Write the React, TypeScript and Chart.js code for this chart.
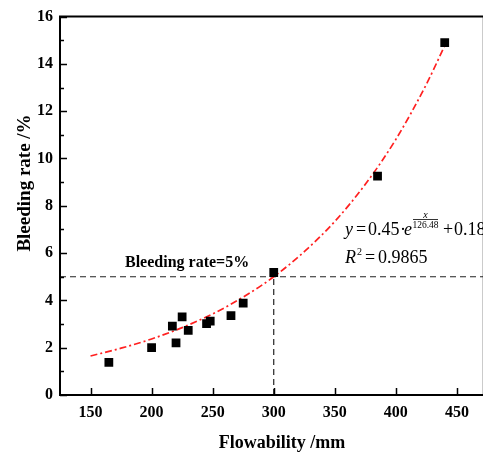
import React, { useEffect, useRef } from 'react';
import { Chart, registerables } from 'chart.js';

Chart.register(...registerables);

// Measured points
const flowability = [165, 200, 217, 220, 225, 230, 245, 248, 265, 275, 300, 385, 440];
const bleedingRate = [1.38, 2.0, 2.91, 2.2, 3.3, 2.73, 3.02, 3.12, 3.36, 3.88, 5.18, 9.25, 14.9];

// Fitted curve
const fitX = [150, 175, 200, 225, 250, 275, 300, 325, 350, 375, 400, 425, 440];
const fitY = [1.65, 1.98, 2.37, 2.85, 3.43, 4.14, 5.0, 6.06, 7.34, 8.91, 10.81, 13.14, 14.77];

// Axes
const xTicks = [150, 200, 250, 300, 350, 400, 450];
const yTicks = [0, 2, 4, 6, 8, 10, 12, 14, 16];
const yMinorTicks = [1, 3, 5, 7, 9, 11, 13, 15];
const xMin = 125;
const xMax = 472;
const yMin = 0;
const yMax = 16;

// Threshold
const thresholdRate = 5;
const thresholdFlow = 300;

const xTitle = 'Flowability /mm';
const yTitle = 'Bleeding rate /%';
const thresholdLabel = 'Bleeding rate=5%';

const SERIF = '"Liberation Serif", "Times New Roman", serif';

const decorPlugin = {
  id: 'decor',
  afterDraw(chart: any) {
    const { ctx, chartArea } = chart;
    const xs = chart.scales.x;
    const ys = chart.scales.y;
    const { left, right, top, bottom } = chartArea;
    ctx.save();
    // frame
    ctx.strokeStyle = '#000';
    ctx.lineWidth = 2;
    ctx.setLineDash([]);
    ctx.beginPath();
    ctx.moveTo(right, top);
    ctx.lineTo(left, top);
    ctx.lineTo(left, bottom);
    ctx.lineTo(right, bottom);
    ctx.lineTo(right, top);
    ctx.stroke();
    // inner ticks
    ctx.lineWidth = 1.5;
    ctx.beginPath();
    xTicks.forEach((v) => {
      const px = Math.round(xs.getPixelForValue(v)) + 0.5;
      ctx.moveTo(px, bottom);
      ctx.lineTo(px, bottom - 7);
    });
    yTicks.forEach((v) => {
      const py = Math.round(ys.getPixelForValue(v)) + 0.5;
      ctx.moveTo(left, py);
      ctx.lineTo(left + 7, py);
    });
    yMinorTicks.forEach((v) => {
      const py = Math.round(ys.getPixelForValue(v)) + 0.5;
      ctx.moveTo(left, py);
      ctx.lineTo(left + 4, py);
    });
    ctx.stroke();

    ctx.fillStyle = '#000';
    // axis titles
    ctx.font = `bold 18px ${SERIF}`;
    ctx.textAlign = 'center';
    ctx.textBaseline = 'middle';
    ctx.fillText(xTitle, 282, 443);
    ctx.save();
    ctx.translate(25, 183);
    ctx.rotate(-Math.PI / 2);
    ctx.font = `bold 19px ${SERIF}`;
    ctx.fillText(yTitle, 0, 0);
    ctx.restore();

    // threshold label
    ctx.textAlign = 'left';
    ctx.textBaseline = 'alphabetic';
    ctx.font = `bold 16px ${SERIF}`;
    ctx.fillText(thresholdLabel, 125, 267);

    // equation
    const f = `18px ${SERIF}`;
    const fi = `italic 18px ${SERIF}`;
    const small = `9.5px ${SERIF}`;
    const smallI = `italic 10px ${SERIF}`;
    ctx.font = fi;
    ctx.fillText('y', 345, 235);
    ctx.font = f;
    ctx.fillText('=', 356, 235);
    ctx.fillText('0.45', 368, 235);
    ctx.fillText('\u00b7', 400, 235);
    ctx.font = fi;
    ctx.fillText('e', 404, 235);
    ctx.font = smallI;
    ctx.textAlign = 'center';
    ctx.fillText('x', 425.5, 217.5);
    ctx.font = small;
    ctx.fillText('126.48', 425.5, 228);
    ctx.lineWidth = 0.8;
    ctx.beginPath();
    ctx.moveTo(413, 219.5);
    ctx.lineTo(438, 219.5);
    ctx.stroke();
    ctx.textAlign = 'left';
    ctx.font = f;
    ctx.fillText('+', 443, 235);
    ctx.fillText('0.18', 454, 235);

    ctx.font = fi;
    ctx.fillText('R', 345, 263);
    ctx.font = `10px ${SERIF}`;
    ctx.fillText('2', 357, 255);
    ctx.font = f;
    ctx.fillText('=', 365, 263);
    ctx.fillText('0.9865', 378, 263);

    ctx.restore();
  },
};

export default function App() {
  const ref = useRef<HTMLCanvasElement | null>(null);
  useEffect(() => {
    if (!ref.current) return;
    const pts = flowability.map((x, i) => ({ x, y: bleedingRate[i] }));
    const fit = fitX.map((x, i) => ({ x, y: fitY[i] }));
    const hLine = [
      { x: xMin, y: thresholdRate },
      { x: xMax, y: thresholdRate },
    ];
    const vLine = [
      { x: thresholdFlow, y: yMin },
      { x: thresholdFlow, y: thresholdRate },
    ];
    const chart = new Chart(ref.current, {
      type: 'scatter',
      data: {
        datasets: [
          {
            label: 'Measured',
            data: pts,
            pointStyle: 'rect',
            pointRadius: 6.2,
            backgroundColor: '#000',
            borderWidth: 0,
          } as any,
          {
            label: 'Fit',
            data: fit,
            showLine: true,
            pointRadius: 0,
            borderColor: '#ff2020',
            borderWidth: 1.7,
            borderDash: [7, 3, 2, 3],
            tension: 0.4,
            cubicInterpolationMode: 'monotone',
          } as any,
          {
            label: 'h',
            data: hLine,
            showLine: true,
            pointRadius: 0,
            borderColor: '#222',
            borderWidth: 1.2,
            borderDash: [6, 4],
          } as any,
          {
            label: 'v',
            data: vLine,
            showLine: true,
            pointRadius: 0,
            borderColor: '#222',
            borderWidth: 1.2,
            borderDash: [6, 4],
          } as any,
        ],
      },
      options: {
        responsive: false,
        animation: false,
        layout: { padding: { left: 0, top: 16, right: 4, bottom: 0 } },
        plugins: { legend: { display: false }, tooltip: { enabled: false } },
        scales: {
          x: {
            type: 'linear',
            min: xMin,
            max: xMax,
            grid: { display: false, drawTicks: false },
            border: { display: false },
            afterBuildTicks: (s: any) => {
              s.ticks = xTicks.map((v) => ({ value: v }));
            },
            afterFit: (s: any) => {
              s.height = 59;
            },
            ticks: {
              padding: 8,
              color: '#000',
              font: { family: SERIF, size: 16, weight: 'bold' },
            },
          },
          y: {
            type: 'linear',
            min: yMin,
            max: yMax,
            grid: { display: false, drawTicks: false },
            border: { display: false },
            afterBuildTicks: (s: any) => {
              s.ticks = yTicks.map((v) => ({ value: v }));
            },
            afterFit: (s: any) => {
              s.width = 60;
            },
            ticks: {
              padding: 7,
              color: '#000',
              font: { family: SERIF, size: 16, weight: 'bold' },
            },
          },
        },
      } as any,
      plugins: [decorPlugin],
    });
    return () => chart.destroy();
  }, []);
  return (
    <div
      style={{
        position: 'absolute',
        left: 0,
        top: 0,
        width: 483,
        height: 454,
        overflow: 'hidden',
        background: '#fff',
      }}
    >
      <canvas ref={ref} width={490} height={454} style={{ display: 'block' }} />
    </div>
  );
}
